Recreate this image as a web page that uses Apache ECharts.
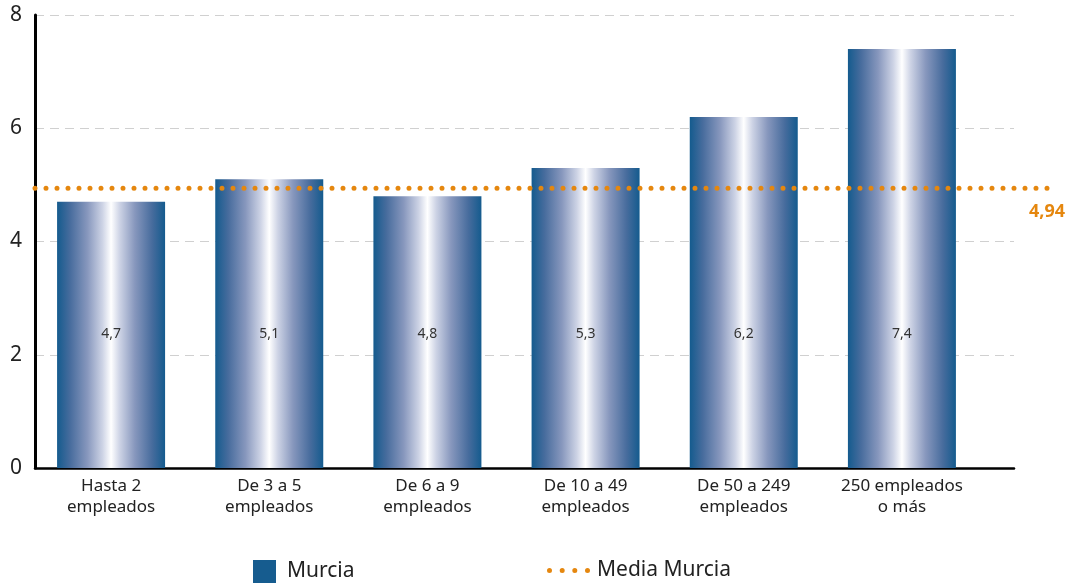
<!DOCTYPE html>
<html>
<head>
<meta charset="utf-8">
<script src="https://cdn.jsdelivr.net/npm/echarts@6/dist/echarts.min.js"></script>
<style>
html,body{margin:0;padding:0;background:#fff;}
#chart{width:1071px;height:584px;}
</style>
</head>
<body>
<div id="chart"></div>
<script>
const categories = ['Hasta 2\nempleados', 'De 3 a 5\nempleados', 'De 6 a 9\nempleados', 'De 10 a 49\nempleados', 'De 50 a 249\nempleados', '250 empleados\no más'];
const murciaValues = [4.7, 5.1, 4.8, 5.3, 6.2, 7.4];
const mediaMurcia = 4.94;
const yTicks = [0, 2, 4, 6, 8];

const FONT = 'Noto Sans';
const BLUE = '#165c8f';
const ORANGE = '#e5870f';
const fmt = v => String(v).replace('.', ',');

const chart = echarts.init(document.getElementById('chart'));
const gTop = 15, gBottom = 116;

chart.setOption({
  animation: false,
  textStyle: { fontFamily: FONT },
  grid: [
    { left: 32, right: 90, top: gTop, bottom: gBottom },
    { left: 35, right: 57, top: gTop, bottom: gBottom },
    { left: 35, right: 18, top: gTop, bottom: gBottom }
  ],
  xAxis: [
    { gridIndex: 0, type: 'category', data: categories,
      axisLine: { show: false }, axisTick: { show: false },
      axisLabel: { color: '#222', fontSize: 17, lineHeight: 21, margin: 8, fontFamily: FONT, interval: 0 } },
    { gridIndex: 1, type: 'value', min: 0, max: 1, show: true,
      axisLine: { show: true, lineStyle: { color: '#000', width: 2.5 } },
      axisTick: { show: false }, axisLabel: { show: false }, splitLine: { show: false } },
    { gridIndex: 2, type: 'value', min: 0, max: 1, show: false }
  ],
  yAxis: [
    { gridIndex: 0, type: 'value', min: yTicks[0], max: yTicks[yTicks.length - 1], interval: 2, show: false },
    { gridIndex: 1, type: 'value', min: yTicks[0], max: yTicks[yTicks.length - 1], interval: 2,
      axisLine: { show: true, lineStyle: { color: '#000', width: 3 } },
      axisTick: { show: false },
      axisLabel: { color: '#222', fontSize: 21, margin: 13, fontFamily: FONT, padding: [4, 0, 0, 0] },
      splitLine: { show: true, lineStyle: { color: '#d0d0d0', width: 1, type: [9, 6] } } },
    { gridIndex: 2, type: 'value', min: yTicks[0], max: yTicks[yTicks.length - 1], show: false }
  ],
  legend: [
    { left: 253, top: 560, padding: 0, itemWidth: 23, itemHeight: 23, itemGap: 10,
      data: [{ name: 'Murcia', icon: 'rect', itemStyle: { color: BLUE } }],
      textStyle: { fontSize: 21, color: '#222', fontFamily: FONT, padding: [3, 0, 0, 6] } },
    { left: 547, top: 560, padding: 0, itemWidth: 43, itemHeight: 5, itemGap: 10,
      data: [{ name: 'Media Murcia',
        icon: 'path://M2.5,0A2.5,2.5,0,1,1,2.5,5A2.5,2.5,0,1,1,2.5,0ZM15.2,0A2.5,2.5,0,1,1,15.2,5A2.5,2.5,0,1,1,15.2,0ZM27.8,0A2.5,2.5,0,1,1,27.8,5A2.5,2.5,0,1,1,27.8,0ZM40.5,0A2.5,2.5,0,1,1,40.5,5A2.5,2.5,0,1,1,40.5,0Z',
        itemStyle: { color: ORANGE } }],
      textStyle: { fontSize: 21, color: '#222', fontFamily: FONT, padding: [0, 0, 0, 2] } }
  ],
  series: [
    { name: 'Murcia', type: 'bar', xAxisIndex: 0, yAxisIndex: 0, data: murciaValues, barWidth: 108, z: 3,
      itemStyle: { color: { type: 'linear', x: 0, y: 0, x2: 1, y2: 0, colorStops: [
        { offset: 0, color: '#145b8e' },
        { offset: 0.12, color: '#476c9d' },
        { offset: 0.28, color: '#8797bd' },
        { offset: 0.42, color: '#cdd3e5' },
        { offset: 0.5, color: '#ffffff' },
        { offset: 0.58, color: '#cdd3e5' },
        { offset: 0.72, color: '#8797bd' },
        { offset: 0.88, color: '#476c9d' },
        { offset: 1, color: '#145b8e' } ] } },
      label: { show: true, position: 'insideBottom', distance: 127, color: '#333', fontSize: 14, fontFamily: FONT,
        formatter: p => fmt(p.value) } },
    { name: 'Media Murcia', type: 'line', xAxisIndex: 2, yAxisIndex: 2, z: 5,
      data: [[0, mediaMurcia], { value: [1, mediaMurcia],
        label: { show: true, position: 'bottom', distance: 15, offset: [-6, 0], formatter: () => fmt(mediaMurcia),
          color: ORANGE, fontWeight: 'bold', fontSize: 18, fontFamily: FONT } }],
      symbol: 'circle', symbolSize: 0, showSymbol: true,
      itemStyle: { color: ORANGE },
      lineStyle: { color: ORANGE, width: 5, type: [0, 11], cap: 'round' } }
  ]
});
</script>
</body>
</html>
